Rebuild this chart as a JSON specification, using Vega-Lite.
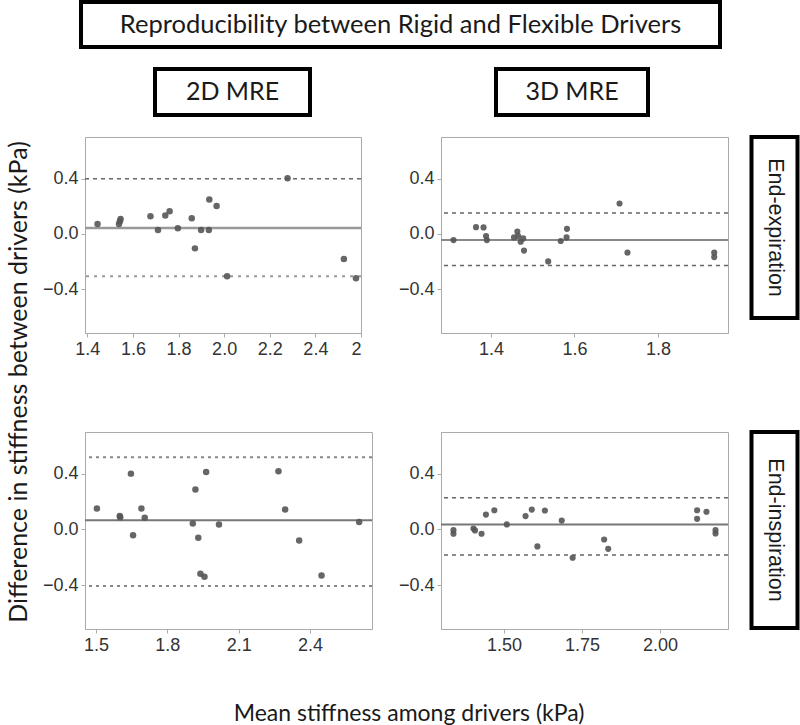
{
  "$schema": "https://vega.github.io/schema/vega-lite/v6.json",
  "autosize": {"type": "pad"},
  "padding": {"left": 4, "top": 0, "right": 0, "bottom": 0},
  "background": "white",
  "config": {
    "view": {"stroke": null},
    "axis": {"domainColor": "#aaaaaa", "tickColor": "#aaaaaa", "tickSize": 4, "labelFont": "Liberation Sans", "labelFontSize": 18, "labelColor": "#333333", "labelPadding": 3, "grid": false, "title": null}
  },
  "datasets": {
    "pts": [
      {"m": "2D", "p": "exp", "x": 1.445, "y": 0.072},
      {"m": "2D", "p": "exp", "x": 1.543, "y": 0.092},
      {"m": "2D", "p": "exp", "x": 1.546, "y": 0.108},
      {"m": "2D", "p": "exp", "x": 1.539, "y": 0.072},
      {"m": "2D", "p": "exp", "x": 1.677, "y": 0.128},
      {"m": "2D", "p": "exp", "x": 1.710, "y": 0.029},
      {"m": "2D", "p": "exp", "x": 1.742, "y": 0.133},
      {"m": "2D", "p": "exp", "x": 1.761, "y": 0.164},
      {"m": "2D", "p": "exp", "x": 1.797, "y": 0.041},
      {"m": "2D", "p": "exp", "x": 1.858, "y": 0.113},
      {"m": "2D", "p": "exp", "x": 1.872, "y": -0.104},
      {"m": "2D", "p": "exp", "x": 1.899, "y": 0.029},
      {"m": "2D", "p": "exp", "x": 1.933, "y": 0.029},
      {"m": "2D", "p": "exp", "x": 1.935, "y": 0.248},
      {"m": "2D", "p": "exp", "x": 1.967, "y": 0.202},
      {"m": "2D", "p": "exp", "x": 2.013, "y": -0.306},
      {"m": "2D", "p": "exp", "x": 2.278, "y": 0.402},
      {"m": "2D", "p": "exp", "x": 2.525, "y": -0.181},
      {"m": "2D", "p": "exp", "x": 2.578, "y": -0.320},
      {"m": "3D", "p": "exp", "x": 1.310, "y": -0.044},
      {"m": "3D", "p": "exp", "x": 1.364, "y": 0.049},
      {"m": "3D", "p": "exp", "x": 1.382, "y": 0.047},
      {"m": "3D", "p": "exp", "x": 1.388, "y": -0.015},
      {"m": "3D", "p": "exp", "x": 1.390, "y": -0.044},
      {"m": "3D", "p": "exp", "x": 1.455, "y": -0.025},
      {"m": "3D", "p": "exp", "x": 1.463, "y": 0.017},
      {"m": "3D", "p": "exp", "x": 1.465, "y": -0.015},
      {"m": "3D", "p": "exp", "x": 1.471, "y": -0.056},
      {"m": "3D", "p": "exp", "x": 1.477, "y": -0.032},
      {"m": "3D", "p": "exp", "x": 1.479, "y": -0.120},
      {"m": "3D", "p": "exp", "x": 1.537, "y": -0.198},
      {"m": "3D", "p": "exp", "x": 1.567, "y": -0.051},
      {"m": "3D", "p": "exp", "x": 1.581, "y": -0.025},
      {"m": "3D", "p": "exp", "x": 1.582, "y": 0.037},
      {"m": "3D", "p": "exp", "x": 1.708, "y": 0.220},
      {"m": "3D", "p": "exp", "x": 1.727, "y": -0.135},
      {"m": "3D", "p": "exp", "x": 1.935, "y": -0.135},
      {"m": "3D", "p": "exp", "x": 1.935, "y": -0.167},
      {"m": "2D", "p": "insp", "x": 1.504, "y": 0.150},
      {"m": "2D", "p": "insp", "x": 1.602, "y": 0.088},
      {"m": "2D", "p": "insp", "x": 1.600, "y": 0.096},
      {"m": "2D", "p": "insp", "x": 1.647, "y": 0.401},
      {"m": "2D", "p": "insp", "x": 1.656, "y": -0.041},
      {"m": "2D", "p": "insp", "x": 1.691, "y": 0.150},
      {"m": "2D", "p": "insp", "x": 1.705, "y": 0.084},
      {"m": "2D", "p": "insp", "x": 1.907, "y": 0.043},
      {"m": "2D", "p": "insp", "x": 1.918, "y": 0.287},
      {"m": "2D", "p": "insp", "x": 1.930, "y": -0.060},
      {"m": "2D", "p": "insp", "x": 1.939, "y": -0.318},
      {"m": "2D", "p": "insp", "x": 1.956, "y": -0.339},
      {"m": "2D", "p": "insp", "x": 1.963, "y": 0.413},
      {"m": "2D", "p": "insp", "x": 2.017, "y": 0.036},
      {"m": "2D", "p": "insp", "x": 2.267, "y": 0.418},
      {"m": "2D", "p": "insp", "x": 2.295, "y": 0.143},
      {"m": "2D", "p": "insp", "x": 2.354, "y": -0.079},
      {"m": "2D", "p": "insp", "x": 2.448, "y": -0.330},
      {"m": "2D", "p": "insp", "x": 2.606, "y": 0.053},
      {"m": "3D", "p": "insp", "x": 1.338, "y": -0.005},
      {"m": "3D", "p": "insp", "x": 1.338, "y": -0.031},
      {"m": "3D", "p": "insp", "x": 1.402, "y": 0.007},
      {"m": "3D", "p": "insp", "x": 1.407, "y": -0.007},
      {"m": "3D", "p": "insp", "x": 1.428, "y": -0.031},
      {"m": "3D", "p": "insp", "x": 1.442, "y": 0.107},
      {"m": "3D", "p": "insp", "x": 1.469, "y": 0.138},
      {"m": "3D", "p": "insp", "x": 1.509, "y": 0.036},
      {"m": "3D", "p": "insp", "x": 1.569, "y": 0.096},
      {"m": "3D", "p": "insp", "x": 1.589, "y": 0.143},
      {"m": "3D", "p": "insp", "x": 1.607, "y": -0.122},
      {"m": "3D", "p": "insp", "x": 1.631, "y": 0.136},
      {"m": "3D", "p": "insp", "x": 1.685, "y": 0.064},
      {"m": "3D", "p": "insp", "x": 1.720, "y": -0.203},
      {"m": "3D", "p": "insp", "x": 1.821, "y": -0.072},
      {"m": "3D", "p": "insp", "x": 1.834, "y": -0.139},
      {"m": "3D", "p": "insp", "x": 2.119, "y": 0.076},
      {"m": "3D", "p": "insp", "x": 2.119, "y": 0.138},
      {"m": "3D", "p": "insp", "x": 2.149, "y": 0.127},
      {"m": "3D", "p": "insp", "x": 2.178, "y": -0.005},
      {"m": "3D", "p": "insp", "x": 2.178, "y": -0.029}
    ],
    "lines": [
      {"m": "2D", "p": "exp", "k": "mean", "v": 0.043},
      {"m": "2D", "p": "exp", "k": "upper", "v": 0.398},
      {"m": "2D", "p": "exp", "k": "lower", "v": -0.306},
      {"m": "3D", "p": "exp", "k": "mean", "v": -0.044},
      {"m": "3D", "p": "exp", "k": "upper", "v": 0.152},
      {"m": "3D", "p": "exp", "k": "lower", "v": -0.228},
      {"m": "2D", "p": "insp", "k": "mean", "v": 0.067},
      {"m": "2D", "p": "insp", "k": "upper", "v": 0.518},
      {"m": "2D", "p": "insp", "k": "lower", "v": -0.406},
      {"m": "3D", "p": "insp", "k": "mean", "v": 0.036},
      {"m": "3D", "p": "insp", "k": "upper", "v": 0.227},
      {"m": "3D", "p": "insp", "k": "lower", "v": -0.184}
    ],
    "labels": [
      {"id": "title", "t": "Reproducibility between Rigid and Flexible Drivers"},
      {"id": "c2", "t": "2D MRE"},
      {"id": "c3", "t": "3D MRE"},
      {"id": "r1", "t": "End-expiration"},
      {"id": "r2", "t": "End-inspiration"},
      {"id": "yt", "t": "Difference in stiffness between drivers (kPa)"},
      {"id": "xt", "t": "Mean stiffness among drivers (kPa)"},
      {"id": "blank", "t": ""}
    ]
  },
  "vconcat": [
    {
      "hconcat": [
        {"width": 75, "height": 10, "view": {"stroke": null}, "data": {"name": "labels"}, "transform": [{"filter": "datum.id == 'blank'"}], "mark": {"type": "text"}, "encoding": {"text": {"field": "t"}}},
        {"width": 639, "height": 45, "view": {"stroke": "black", "strokeWidth": 4, "fill": "white"}, "data": {"name": "labels"}, "transform": [{"filter": "datum.id == 'title'"}], "mark": {"type": "text", "font": "Lato", "fontSize": 25.5, "color": "#1a1a1a"}, "encoding": {"text": {"field": "t"}}}
      ],
      "spacing": 0
    },
    {
      "hconcat": [
        {"width": 148.5, "height": 10, "view": {"stroke": null}, "data": {"name": "labels"}, "transform": [{"filter": "datum.id == 'blank'"}], "mark": {"type": "text"}, "encoding": {"text": {"field": "t"}}},
        {"width": 155, "height": 46, "view": {"stroke": "black", "strokeWidth": 4, "fill": "white"}, "data": {"name": "labels"}, "transform": [{"filter": "datum.id == 'c2'"}], "mark": {"type": "text", "font": "Lato", "fontSize": 25, "color": "#1a1a1a"}, "encoding": {"text": {"field": "t"}}},
        {"width": 181.5, "height": 10, "view": {"stroke": null}, "data": {"name": "labels"}, "transform": [{"filter": "datum.id == 'blank'"}], "mark": {"type": "text"}, "encoding": {"text": {"field": "t"}}},
        {"width": 152, "height": 46, "view": {"stroke": "black", "strokeWidth": 4, "fill": "white"}, "data": {"name": "labels"}, "transform": [{"filter": "datum.id == 'c3'"}], "mark": {"type": "text", "font": "Lato", "fontSize": 25, "color": "#1a1a1a"}, "encoding": {"text": {"field": "t"}}}
      ],
      "spacing": 0
    },
    {
      "hconcat": [
        {"width": 30, "height": 490, "view": {"stroke": null}, "data": {"name": "labels"}, "transform": [{"filter": "datum.id == 'yt'"}], "mark": {"type": "text", "font": "Lato", "fontSize": 25, "angle": 270, "color": "#1a1a1a"}, "encoding": {"text": {"field": "t"}}},
        {
          "vconcat": [
            {
              "vconcat": [
                {
                  "hconcat": [
                    {
                      "hconcat": [
                        {
                          "width": 276, "height": 196,
                          "view": {"stroke": "#aaaaaa"},
                          "layer": [
                            {"data": {"name": "lines"}, "transform": [{"filter": "datum.m == '2D' && datum.p == 'exp' && datum.k == 'mean'"}], "mark": {"type": "rule", "color": "#999999", "strokeWidth": 2.5}, "encoding": {"y": {"field": "v", "type": "quantitative"}}},
                            {"data": {"name": "lines"}, "transform": [{"filter": "datum.m == '2D' && datum.p == 'exp' && datum.k == 'upper'"}], "mark": {"type": "rule", "color": "#666666", "strokeWidth": 1.5, "strokeDash": [4, 4]}, "encoding": {"y": {"field": "v", "type": "quantitative"}}},
                            {"data": {"name": "lines"}, "transform": [{"filter": "datum.m == '2D' && datum.p == 'exp' && datum.k == 'lower'"}], "mark": {"type": "rule", "color": "#999999", "strokeWidth": 2, "strokeDash": [3, 5]}, "encoding": {"y": {"field": "v", "type": "quantitative"}}},
                            {"data": {"name": "pts"}, "transform": [{"filter": "datum.m == '2D' && datum.p == 'exp'"}], "mark": {"type": "circle", "size": 42, "color": "#555555", "opacity": 0.9},
                             "encoding": {
                               "x": {"field": "x", "type": "quantitative", "scale": {"domain": [1.39, 2.6], "nice": false, "zero": false}, "axis": {"values": [1.4, 1.6, 1.8, 2.0, 2.2, 2.4, 2.6], "labelExpr": "datum.value > 2.55 ? '2' : format(datum.value, '.1f')"}},
                               "y": {"field": "y", "type": "quantitative", "scale": {"domain": [-0.715, 0.7], "nice": false, "zero": false}, "axis": {"values": [-0.4, 0, 0.4], "format": ".1f"}}
                             }}
                          ]
                        },
                        {
                          "width": 287, "height": 196,
                          "view": {"stroke": "#aaaaaa"},
                          "layer": [
                            {"data": {"name": "lines"}, "transform": [{"filter": "datum.m == '3D' && datum.p == 'exp' && datum.k == 'mean'"}], "mark": {"type": "rule", "color": "#888888", "strokeWidth": 2}, "encoding": {"y": {"field": "v", "type": "quantitative"}}},
                            {"data": {"name": "lines"}, "transform": [{"filter": "datum.m == '3D' && datum.p == 'exp' && datum.k != 'mean'"}], "mark": {"type": "rule", "color": "#666666", "strokeWidth": 1.5, "strokeDash": [4, 4]}, "encoding": {"y": {"field": "v", "type": "quantitative"}}},
                            {"data": {"name": "pts"}, "transform": [{"filter": "datum.m == '3D' && datum.p == 'exp'"}], "mark": {"type": "circle", "size": 38, "color": "#555555", "opacity": 0.9},
                             "encoding": {
                               "x": {"field": "x", "type": "quantitative", "scale": {"domain": [1.28, 1.968], "nice": false, "zero": false}, "axis": {"values": [1.4, 1.6, 1.8], "format": ".1f"}},
                               "y": {"field": "y", "type": "quantitative", "scale": {"domain": [-0.715, 0.7], "nice": false, "zero": false}, "axis": {"values": [-0.4, 0, 0.4], "format": ".1f"}}
                             }}
                          ]
                        }
                      ],
                      "spacing": 34
                    },
                    {"width": 46, "height": 181, "view": {"stroke": "black", "strokeWidth": 4, "fill": "white"}, "data": {"name": "labels"}, "transform": [{"filter": "datum.id == 'r1'"}], "mark": {"type": "text", "font": "Liberation Sans", "fontSize": 21.5, "angle": 90, "color": "#1a1a1a"}, "encoding": {"text": {"field": "t"}}}
                  ],
                  "spacing": 19.5
                },
                {
                  "hconcat": [
                    {
                      "hconcat": [
                        {
                          "width": 287, "height": 197,
                          "view": {"stroke": "#aaaaaa"},
                          "layer": [
                            {"data": {"name": "lines"}, "transform": [{"filter": "datum.m == '2D' && datum.p == 'insp' && datum.k == 'mean'"}], "mark": {"type": "rule", "color": "#777777", "strokeWidth": 2}, "encoding": {"y": {"field": "v", "type": "quantitative"}}},
                            {"data": {"name": "lines"}, "transform": [{"filter": "datum.m == '2D' && datum.p == 'insp' && datum.k != 'mean'"}], "mark": {"type": "rule", "color": "#888888", "strokeWidth": 2, "strokeDash": [3, 4]}, "encoding": {"y": {"field": "v", "type": "quantitative"}}},
                            {"data": {"name": "pts"}, "transform": [{"filter": "datum.m == '2D' && datum.p == 'insp'"}], "mark": {"type": "circle", "size": 42, "color": "#555555", "opacity": 0.9},
                             "encoding": {
                               "x": {"field": "x", "type": "quantitative", "scale": {"domain": [1.454, 2.66], "nice": false, "zero": false}, "axis": {"values": [1.5, 1.8, 2.1, 2.4], "format": ".1f"}},
                               "y": {"field": "y", "type": "quantitative", "scale": {"domain": [-0.715, 0.7], "nice": false, "zero": false}, "axis": {"values": [-0.4, 0, 0.4], "format": ".1f"}}
                             }}
                          ]
                        },
                        {
                          "width": 287, "height": 197,
                          "view": {"stroke": "#aaaaaa"},
                          "layer": [
                            {"data": {"name": "lines"}, "transform": [{"filter": "datum.m == '3D' && datum.p == 'insp' && datum.k == 'mean'"}], "mark": {"type": "rule", "color": "#777777", "strokeWidth": 2}, "encoding": {"y": {"field": "v", "type": "quantitative"}}},
                            {"data": {"name": "lines"}, "transform": [{"filter": "datum.m == '3D' && datum.p == 'insp' && datum.k != 'mean'"}], "mark": {"type": "rule", "color": "#666666", "strokeWidth": 1.5, "strokeDash": [4, 4]}, "encoding": {"y": {"field": "v", "type": "quantitative"}}},
                            {"data": {"name": "pts"}, "transform": [{"filter": "datum.m == '3D' && datum.p == 'insp'"}], "mark": {"type": "circle", "size": 38, "color": "#555555", "opacity": 0.9},
                             "encoding": {
                               "x": {"field": "x", "type": "quantitative", "scale": {"domain": [1.298, 2.218], "nice": false, "zero": false}, "axis": {"values": [1.5, 1.75, 2.0], "format": ".2f"}},
                               "y": {"field": "y", "type": "quantitative", "scale": {"domain": [-0.715, 0.7], "nice": false, "zero": false}, "axis": {"values": [-0.4, 0, 0.4], "format": ".1f"}}
                             }}
                          ]
                        }
                      ],
                      "spacing": 23
                    },
                    {"width": 46, "height": 196, "view": {"stroke": "black", "strokeWidth": 4, "fill": "white"}, "data": {"name": "labels"}, "transform": [{"filter": "datum.id == 'r2'"}], "mark": {"type": "text", "font": "Liberation Sans", "fontSize": 21.5, "angle": 90, "color": "#1a1a1a"}, "encoding": {"text": {"field": "t"}}}
                  ],
                  "spacing": 19.5
                }
              ],
              "spacing": 71
            },
            {"width": 648, "height": 30, "view": {"stroke": null}, "data": {"name": "labels"}, "transform": [{"filter": "datum.id == 'xt'"}], "mark": {"type": "text", "font": "Lato", "fontSize": 23, "color": "#1a1a1a"}, "encoding": {"text": {"field": "t"}}}
          ],
          "spacing": 44
        }
      ],
      "spacing": 7
    }
  ],
  "spacing": 18
}
